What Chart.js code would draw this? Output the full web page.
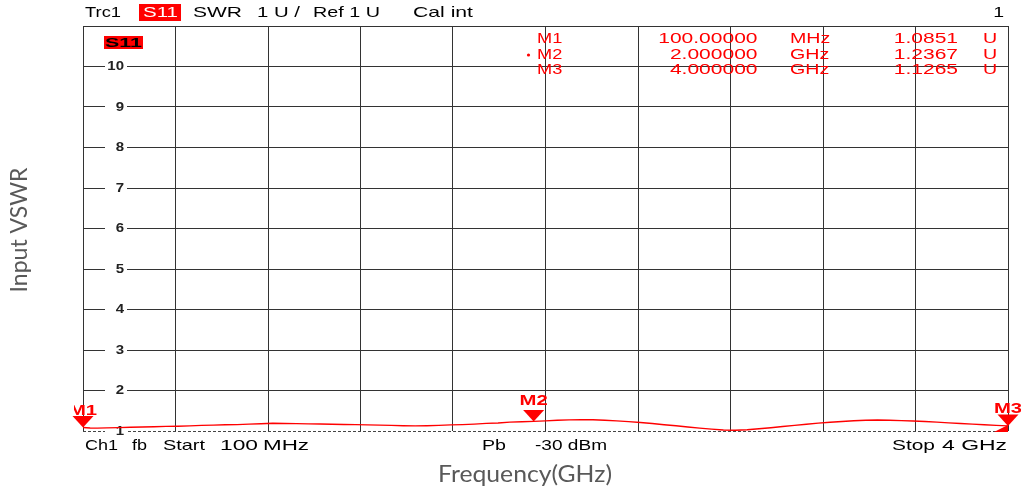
<!DOCTYPE html>
<html><head><meta charset="utf-8">
<script src="https://cdn.jsdelivr.net/npm/chart.js@4.4.1/dist/chart.umd.min.js"></script>
<style>html,body{margin:0;padding:0;background:#fff;overflow:hidden}canvas{display:block}</style>
</head><body>
<canvas id="c" width="1021" height="488"></canvas>
<script>
// ---- data ----
const freqGHz = [0.10,0.13,0.16,0.20,0.25,0.30,0.35,0.40,0.45,0.50,0.55,0.60,0.65,0.70,0.75,0.80,0.85,0.90,0.95,1.00,
  1.05,1.10,1.15,1.20,1.25,1.30,1.35,1.40,1.45,1.50,1.55,1.60,1.65,1.70,1.75,1.80,1.85,1.90,1.95,2.00,
  2.05,2.10,2.15,2.20,2.25,2.30,2.35,2.40,2.45,2.50,2.55,2.60,2.65,2.70,2.75,2.80,2.85,2.90,2.95,3.00,
  3.05,3.10,3.15,3.20,3.25,3.30,3.35,3.40,3.45,3.50,3.55,3.60,3.65,3.70,3.75,3.80,3.85,3.90,3.95,4.00];
const vswr = [1.0851,1.075,1.072,1.078,1.084,1.093,1.100,1.104,1.114,1.118,1.126,1.138,1.144,1.156,1.158,1.170,1.178,1.190,1.186,1.181,
  1.176,1.171,1.166,1.160,1.157,1.150,1.146,1.139,1.131,1.126,1.131,1.140,1.150,1.158,1.170,1.188,1.198,1.218,1.228,1.2367,
  1.250,1.264,1.274,1.280,1.276,1.266,1.250,1.232,1.210,1.186,1.156,1.130,1.100,1.070,1.045,1.026,1.020,1.030,1.054,1.080,
  1.110,1.140,1.168,1.195,1.215,1.236,1.254,1.266,1.272,1.266,1.256,1.246,1.234,1.220,1.200,1.186,1.170,1.156,1.140,1.1265];
const yTickLabels = [1,2,3,4,5,6,7,8,9,10];
const xGridFreq = [0.1,0.49,0.88,1.27,1.66,2.05,2.44,2.83,3.22,3.61,4.0];
const markerNames = ['M1','M2','M3'];
const markerFreq = [0.1, 2.0, 4.0];
const markerVswr = [1.0851, 1.2367, 1.1265];
const markerFreqText = ['100.00000','2.000000','4.000000'];
const markerFreqUnit = ['MHz','GHz','GHz'];
const markerValText = ['1.0851','1.2367','1.1265'];
const activeMarker = 1;

const RED = '#ff0000';
const GRID = '#333333';
const INST_FONT = '"Liberation Sans", Arial, sans-serif';

function fitText(ctx, text, left, right, y) {
  const m = ctx.measureText(text).width;
  const s = (right - left) / m;
  ctx.save(); ctx.translate(left, y); ctx.scale(s, 1);
  ctx.textAlign = 'left'; ctx.fillText(text, 0, 0); ctx.restore();
}
function scaledText(ctx, text, x, y, sx, align) {
  const w = ctx.measureText(text).width * sx;
  let left = x;
  if (align === 'right') left = x - w; else if (align === 'center') left = x - w / 2;
  ctx.save(); ctx.translate(left, y); ctx.scale(sx, 1);
  ctx.textAlign = 'left'; ctx.fillText(text, 0, 0); ctx.restore();
}

const decor = {
  id: 'decor',
  beforeDatasetsDraw(chart) {
    const ctx = chart.ctx, ys = chart.scales.y, a = chart.chartArea;
    ctx.save();
    // dashed bottom reference line
    const yb = Math.round(ys.getPixelForValue(1)) + 0.5;
    ctx.strokeStyle = '#444'; ctx.lineWidth = 1; ctx.setLineDash([3, 2]);
    ctx.beginPath(); ctx.moveTo(a.left, yb); ctx.lineTo(a.right, yb); ctx.stroke();
    ctx.setLineDash([]);
    // y tick labels with white backdrop
    ctx.font = 'bold 12px ' + INST_FONT; ctx.textBaseline = 'middle';
    yTickLabels.forEach(v => {
      const y = ys.getPixelForValue(v);
      ctx.fillStyle = '#fff'; ctx.fillRect(a.left + 22, y - 3, 22, 6);
      ctx.fillStyle = '#222';
      scaledText(ctx, String(v), a.left + 41, y + 0.5, 1.25, 'right');
    });
    ctx.restore();
  },
  afterDraw(chart) {
    const ctx = chart.ctx, xs = chart.scales.x, ys = chart.scales.y, a = chart.chartArea;
    ctx.save();
    ctx.textBaseline = 'middle';
    // header
    ctx.font = '15px ' + INST_FONT; ctx.fillStyle = '#000';
    fitText(ctx, 'Trc1', 85, 121, 13);
    ctx.fillStyle = RED; ctx.fillRect(139, 4, 42, 17);
    ctx.fillStyle = '#fff'; fitText(ctx, 'S11', 143, 178, 13);
    ctx.fillStyle = '#000';
    fitText(ctx, 'SWR', 193, 242, 13);
    fitText(ctx, '1 U /', 257, 300, 13);
    fitText(ctx, 'Ref 1 U', 313, 380, 13);
    fitText(ctx, 'Cal int', 413, 473, 13);
    scaledText(ctx, '1', 1004, 13, 1.3, 'right');
    // bottom status line
    fitText(ctx, 'Ch1', 85, 118, 446);
    fitText(ctx, 'fb', 132, 147, 446);
    fitText(ctx, 'Start', 163, 205, 446);
    fitText(ctx, '100', 220, 258, 446);
    fitText(ctx, 'MHz', 263, 309, 446);
    fitText(ctx, 'Pb', 482, 506, 446);
    fitText(ctx, '-30 dBm', 535, 607, 446);
    fitText(ctx, 'Stop', 892, 935, 446);
    fitText(ctx, '4 GHz', 942, 1007, 446);
    // S11 trace label box
    ctx.fillStyle = RED; ctx.fillRect(104, 36, 39, 13);
    ctx.font = 'bold 13px ' + INST_FONT; ctx.fillStyle = '#000';
    fitText(ctx, 'S11', 105, 142, 43);
    // marker table
    ctx.font = '14px ' + INST_FONT; ctx.fillStyle = RED;
    const rowY = [39, 55, 70];
    const sx = 1.5;
    markerNames.forEach((n, i) => {
      const y = rowY[i];
      scaledText(ctx, n, 537, y, 1.3, 'left');
      scaledText(ctx, markerFreqText[i], 757.5, y, sx, 'right');
      scaledText(ctx, markerFreqUnit[i], 790, y, 1.4, 'left');
      scaledText(ctx, markerValText[i], 958, y, sx, 'right');
      scaledText(ctx, 'U', 983, y, 1.4, 'left');
      if (i === activeMarker) { ctx.beginPath(); ctx.arc(528.5, y, 1.6, 0, Math.PI * 2); ctx.fill(); }
    });
    // markers on trace
    ctx.font = 'bold 14px ' + INST_FONT;
    markerNames.forEach((n, i) => {
      const px = xs.getPixelForValue(markerFreq[i]);
      const py = ys.getPixelForValue(markerVswr[i]);
      ctx.fillStyle = RED;
      ctx.beginPath(); ctx.moveTo(px - 10.5, py - 11.5); ctx.lineTo(px + 10.5, py - 11.5); ctx.lineTo(px, py); ctx.closePath(); ctx.fill();
      ctx.save();
      ctx.beginPath(); ctx.rect(74, 0, 1021 - 74, 488); ctx.clip();
      const off = i === activeMarker ? 20 : 16.5;
      scaledText(ctx, n, px, py - off, 1.45, 'center');
      ctx.restore();
    });
    // stop indicator
    const xe = xs.getPixelForValue(4.0), yb = ys.getPixelForValue(1);
    ctx.beginPath(); ctx.moveTo(xe - 14, yb + 1); ctx.lineTo(xe, yb + 1); ctx.lineTo(xe, yb - 6); ctx.closePath(); ctx.fill();
    // axis titles
    ctx.fillStyle = '#595959';
    ctx.font = '23px Lato, "Open Sans", sans-serif';
    ctx.textBaseline = 'alphabetic';
    fitText(ctx, 'Frequency(GHz)', 438, 612, 482);
    ctx.save(); ctx.translate(27, 230); ctx.rotate(-Math.PI / 2);
    ctx.textAlign = 'center'; ctx.fillText('Input VSWR', 0, 0);
    ctx.restore();
    ctx.restore();
  }
};

new Chart(document.getElementById('c').getContext('2d'), {
  type: 'line',
  data: { datasets: [{ data: freqGHz.map((f, i) => ({ x: f, y: vswr[i] })), borderColor: RED, borderWidth: 1.4, pointRadius: 0, tension: 0, fill: false }] },
  options: {
    responsive: false, animation: false, devicePixelRatio: 1,
    layout: { padding: { left: 83, right: 13, top: 26, bottom: 57 } },
    plugins: { legend: { display: false }, tooltip: { enabled: false } },
    scales: {
      x: { type: 'linear', min: 0.1, max: 4.0,
        afterBuildTicks: s => { s.ticks = xGridFreq.map(v => ({ value: v })); },
        ticks: { display: false }, grid: { color: GRID, lineWidth: 1, drawTicks: false }, border: { display: false } },
      y: { type: 'linear', min: 1, max: 11,
        ticks: { display: false, stepSize: 1 },
        grid: { color: c => (c.tick && c.tick.value === 1) ? 'rgba(0,0,0,0)' : GRID, lineWidth: 1, drawTicks: false }, border: { display: false } }
    }
  },
  plugins: [decor]
});
</script>
</body></html>
